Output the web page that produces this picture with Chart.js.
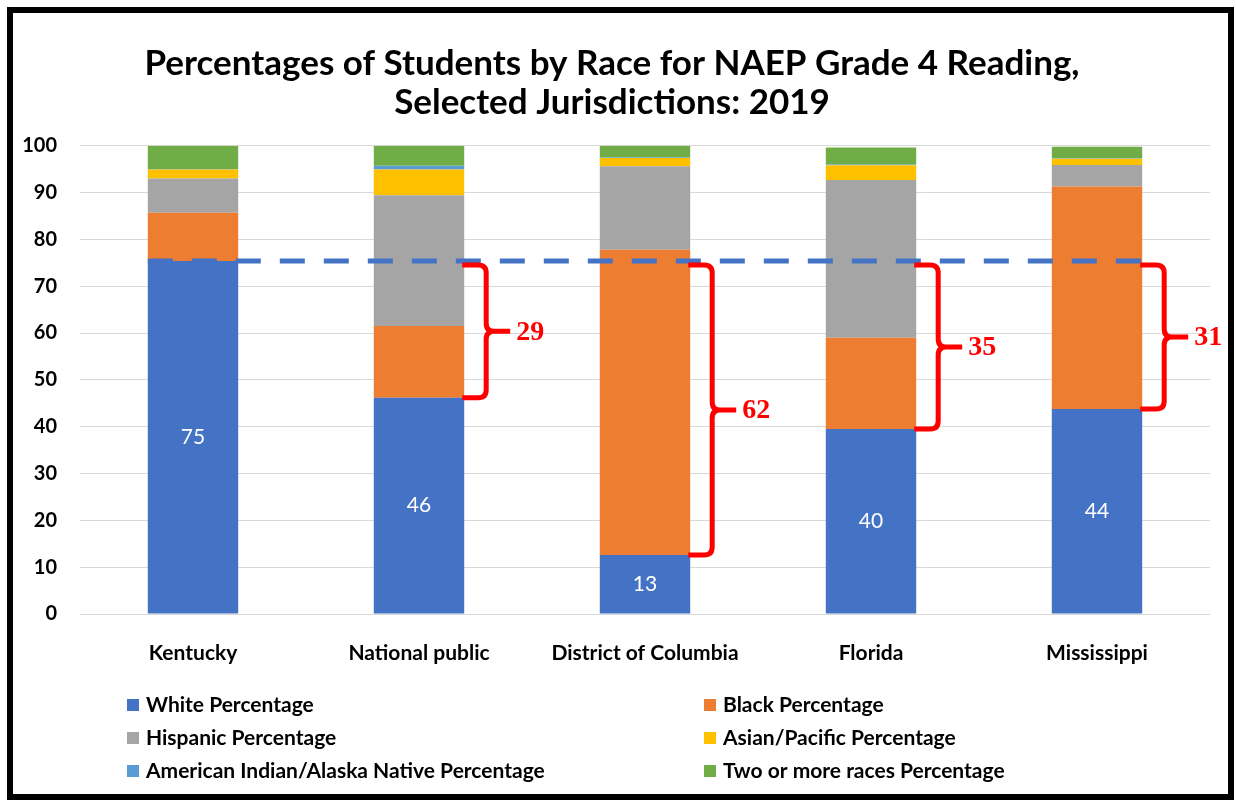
<!DOCTYPE html>
<html>
<head>
<meta charset="utf-8">
<script src="https://cdn.jsdelivr.net/npm/chart.js@4"></script>
<style>
  body { margin: 0; background: #fff; }
  canvas { display: block; }
</style>
</head>
<body>
<canvas id="myChart" width="1236" height="800"></canvas>
<script>
// ------- data
var jurisdictions = ['Kentucky', 'National public', 'District of Columbia', 'Florida', 'Mississippi']
var whitePct    = [75.4, 46.2, 12.6, 39.5, 43.8]
var blackPct    = [10.3, 15.3, 65.2, 19.5, 47.5]
var hispanicPct = [7.3, 27.9, 17.8, 33.7, 4.6]
var asianPct    = [1.9, 5.5, 1.8, 3.1, 1.3]
var indianPct   = [0.1, 0.8, 0.1, 0.2, 0.1]
var twoPlusPct  = [5.0, 4.3, 2.5, 3.6, 2.5]
var yTicks = [0, 10, 20, 30, 40, 50, 60, 70, 80, 90, 100]
var gapLabels = [null, 29, 62, 35, 31]   // Kentucky white share minus each other white share
var benchmark = whitePct[0]

var titleLines = ['Percentages of Students by Race for NAEP Grade 4 Reading,', 'Selected Jurisdictions: 2019']

var seriesNames = ['White Percentage', 'Black Percentage', 'Hispanic Percentage',
    'Asian/Pacific Percentage', 'American Indian/Alaska Native Percentage', 'Two or more races Percentage']
var seriesData = [whitePct, blackPct, hispanicPct, asianPct, indianPct, twoPlusPct]
var cores = ['#4472C4', '#ED7D31', '#A5A5A5', '#FFC000', '#5B9BD5', '#70AD47']

var fontName = 'Lato, "Open Sans", sans-serif'

var dataSets = seriesNames.map((name, i) => {
    return {
        label: name,
        data: seriesData[i],
        backgroundColor: cores[i],
        borderWidth: 0,
        categoryPercentage: 0.8,
        barPercentage: 0.5
    }
})

// dashed benchmark, brackets, white labels, legend and frame
var extras = {
    id: 'extras',
    afterDatasetsDraw(chart) {
        const ctx = chart.ctx
        const y = chart.scales.y
        const white = chart.getDatasetMeta(0).data
        const yBench = y.getPixelForValue(benchmark)

        // value labels in the white segments
        ctx.save()
        ctx.fillStyle = '#fff'
        ctx.font = '21px ' + fontName
        ctx.textAlign = 'center'
        ctx.textBaseline = 'middle'
        white.forEach((bar, i) => {
            ctx.fillText(Math.round(whitePct[i]), bar.x, (bar.y + bar.base) / 2)
        })
        ctx.restore()

        // dashed line
        const first = white[0]
        const last = white[white.length - 1]
        ctx.save()
        ctx.strokeStyle = '#4472C4'
        ctx.lineWidth = 5
        ctx.setLineDash([25, 19])
        ctx.beginPath()
        ctx.moveTo(first.x - first.width / 2, yBench)
        ctx.lineTo(last.x + last.width / 2 + 14, yBench)
        ctx.stroke()
        ctx.restore()

        // red braces
        ctx.save()
        ctx.strokeStyle = '#FF0000'
        ctx.fillStyle = '#FF0000'
        ctx.lineWidth = 5
        ctx.lineJoin = 'round'
        ctx.font = 'bold 28px "Liberation Serif", "DejaVu Serif", serif'
        ctx.textBaseline = 'middle'
        white.forEach((bar, i) => {
            if (gapLabels[i] == null) return
            const x0 = bar.x + bar.width / 2 - 2
            const xv = x0 + 24
            const r = 8
            const yTop = yBench + 4
            const yBot = bar.y
            const yMid = (yTop + yBot) / 2
            ctx.beginPath()
            ctx.moveTo(x0, yTop)
            ctx.lineTo(xv - r, yTop)
            ctx.quadraticCurveTo(xv, yTop, xv, yTop + r)
            ctx.lineTo(xv, yMid - r)
            ctx.quadraticCurveTo(xv, yMid, xv + r, yMid)
            ctx.lineTo(xv + 24, yMid)
            ctx.moveTo(xv + r, yMid)
            ctx.quadraticCurveTo(xv, yMid, xv, yMid + r)
            ctx.lineTo(xv, yBot - r)
            ctx.quadraticCurveTo(xv, yBot, xv - r, yBot)
            ctx.lineTo(x0, yBot)
            ctx.stroke()
            ctx.fillText(gapLabels[i], xv + 30, yMid + 1)
        })
        ctx.restore()
    },
    afterDraw(chart) {
        const ctx = chart.ctx
        // legend in two columns
        const colX = [127, 704]
        const rowY = [705, 738, 771]
        ctx.save()
        ctx.font = 'bold 21px ' + fontName
        ctx.textBaseline = 'middle'
        ctx.fillStyle = '#000'
        chart.data.datasets.forEach((ds, i) => {
            const x = colX[i % 2]
            const yy = rowY[Math.floor(i / 2)]
            ctx.fillStyle = ds.backgroundColor
            ctx.fillRect(x, yy - 6, 12, 12)
            ctx.fillStyle = '#000'
            ctx.fillText(ds.label, x + 19, yy)
        })
        ctx.restore()

        // black frame
        ctx.save()
        ctx.strokeStyle = '#000'
        ctx.lineWidth = 6
        ctx.strokeRect(10, 10, 1221, 787)
        ctx.restore()
    }
}

const ctx = document.getElementById('myChart')

var myChart = new Chart(ctx, {
    type: 'bar',
    data: {
        labels: jurisdictions,
        datasets: dataSets
    },
    options: {
        responsive: false,
        animation: false,
        layout: {
            padding: { top: 0, left: 14, right: 26, bottom: 130 }
        },
        plugins: {
            legend: { display: false },
            tooltip: { enabled: false },
            title: {
                display: true,
                text: titleLines,
                color: '#000',
                font: { family: fontName, size: 35, weight: 'bold', lineHeight: 1.11 },
                padding: { top: 44, bottom: 24 }
            }
        },
        scales: {
            x: {
                stacked: true,
                grid: { display: false },
                border: { display: false },
                ticks: {
                    color: '#000',
                    padding: 19,
                    font: { family: fontName, size: 21, weight: 'bold' }
                },
                afterFit: (s) => { s.height = 56 }
            },
            y: {
                stacked: true,
                min: 0,
                max: 100,
                afterBuildTicks: (s) => { s.ticks = yTicks.map(v => ({ value: v })) },
                grid: { color: '#D9D9D9', lineWidth: 1, drawTicks: false },
                border: { display: false },
                ticks: {
                    color: '#000',
                    padding: 23,
                    font: { family: fontName, size: 20, weight: 'bold' }
                },
                afterFit: (s) => { s.width = 66 }
            }
        }
    },
    plugins: [extras]
})
</script>
</body>
</html>
